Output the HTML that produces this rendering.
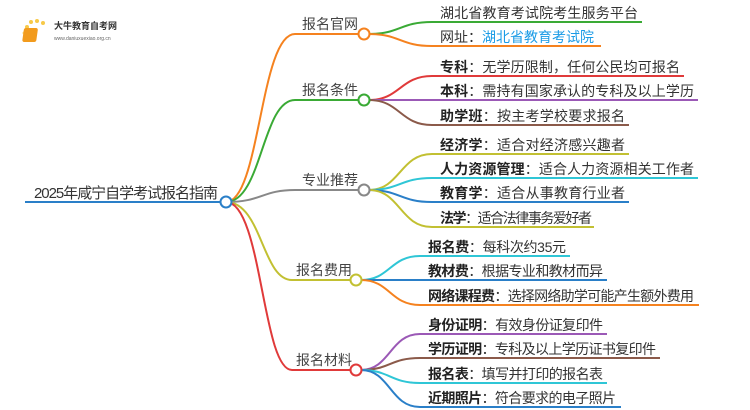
<!DOCTYPE html>
<html><head><meta charset="utf-8"><style>
body{margin:0;background:#fff;}
svg{display:block;}
text{font-family:"Liberation Sans","Noto Sans CJK SC",sans-serif;font-size:14px;fill:#333;}
.b{font-weight:bold;fill:#222;}
.br{font-size:14px;fill:#444;}
</style></head><body>
<svg width="750" height="410" viewBox="0 0 750 410" xmlns="http://www.w3.org/2000/svg">
<g fill="none" stroke-width="2">
<line x1="25" y1="202" x2="221" y2="202" stroke="#2a7fc8"/>
<path d="M226,202 C260,202 260,34 295,34 L359,34" stroke="#f5821f"/>
<path d="M226,202 C262,202 262,100 295,100 L359,100" stroke="#3aaa35"/>
<path d="M226,202 C262,202 262,190 295,190 L359,190" stroke="#888"/>
<path d="M226,202 C262,202 262,280 292,280 L351,280" stroke="#c2c032"/>
<path d="M226,202 C262,202 262,370 292,370 L351,370" stroke="#e03a3a"/>
<path d="M369,34 C400,34 400,22 432,22 L642,22" stroke="#3aaa35"/>
<path d="M369,34 C400,34 400,46 432,46 L601,46" stroke="#f5821f"/>
<path d="M369,100 C400,100 400,76 432,76 L684,76" stroke="#e03a3a"/>
<path d="M369,100 L698,100" stroke="#9b59b6"/>
<path d="M369,100 C400,100 400,125 432,125 L629,125" stroke="#8b5a4a"/>
<path d="M369,190 C400,190 400,154 432,154 L629,154" stroke="#c2c032"/>
<path d="M369,190 C400,190 400,178 432,178 L698,178" stroke="#2fc6d6"/>
<path d="M369,190 C400,190 400,202 432,202 L629,202" stroke="#2a7fc8"/>
<path d="M369,190 C400,190 400,227 432,227 L594,227" stroke="#c2c032"/>
<path d="M361,280 C390,280 390,256 420,256 L570,256" stroke="#2fc6d6"/>
<path d="M361,280 L607,280" stroke="#2a7fc8"/>
<path d="M361,280 C390,280 390,305 420,305 L699,305" stroke="#f5821f"/>
<path d="M361,370 C390,370 390,334 420,334 L607,334" stroke="#9b59b6"/>
<path d="M361,370 C390,370 390,358 420,358 L660,358" stroke="#8b5a4a"/>
<path d="M361,370 C390,370 390,383 420,383 L607,383" stroke="#2fc6d6"/>
<path d="M361,370 C390,370 390,407 420,407 L621,407" stroke="#2a7fc8"/>
</g>
<g fill="#fff" stroke-width="2">
<circle cx="226" cy="202" r="5.5" stroke="#2a7fc8"/>
<circle cx="364" cy="34" r="5.5" stroke="#f5821f"/>
<circle cx="364" cy="100" r="5.5" stroke="#3aaa35"/>
<circle cx="364" cy="190" r="5.5" stroke="#888"/>
<circle cx="356" cy="280" r="5.5" stroke="#c2c032"/>
<circle cx="356" cy="370" r="5.5" stroke="#e03a3a"/>
</g>
<g>
<circle cx="27" cy="27" r="2" fill="#f7c948"/><circle cx="31" cy="22" r="2" fill="#f7c948"/><circle cx="37" cy="21" r="2" fill="#f7c948"/><circle cx="43" cy="23" r="2" fill="#f7c948"/><circle cx="24" cy="33" r="1.5" fill="#f7d97a"/>
<rect x="28" y="28" width="14" height="14" rx="2" fill="#f29b1d" transform="skewX(-8)"/>
<text x="54" y="29" style="font-size:9px;fill:#333;font-weight:bold">大牛教育自考网</text>
<text x="54" y="40" style="font-size:5px;fill:#666">www.daniuxuexiao.org.cn</text>
</g>
<text x="34" y="198" textLength="184" style="font-size:15px;fill:#333">2025年咸宁自学考试报名指南</text>
<text class="br" x="302" y="29">报名官网</text>
<text class="br" x="302" y="95">报名条件</text>
<text class="br" x="302" y="185">专业推荐</text>
<text class="br" x="296" y="275">报名费用</text>
<text class="br" x="296" y="365">报名材料</text>

<text x="440" y="18" textLength="198">湖北省教育考试院考生服务平台</text>
<text x="440" y="42">网址：<tspan style="fill:#1a9be6">湖北省教育考试院</tspan></text>
<text x="440" y="72" textLength="240"><tspan class="b">专科</tspan>：无学历限制，任何公民均可报名</text>
<text x="440" y="96" textLength="254"><tspan class="b">本科</tspan>：需持有国家承认的专科及以上学历</text>
<text x="440" y="121" textLength="185"><tspan class="b">助学班</tspan>：按主考学校要求报名</text>
<text x="440" y="150" textLength="185"><tspan class="b">经济学</tspan>：适合对经济感兴趣者</text>
<text x="440" y="174" textLength="254"><tspan class="b">人力资源管理</tspan>：适合人力资源相关工作者</text>
<text x="440" y="198" textLength="185"><tspan class="b">教育学</tspan>：适合从事教育行业者</text>
<text x="440" y="223" textLength="152"><tspan class="b">法学</tspan>：适合法律事务爱好者</text>
<text x="428" y="252" textLength="138"><tspan class="b">报名费</tspan>：每科次约35元</text>
<text x="428" y="276" textLength="175"><tspan class="b">教材费</tspan>：根据专业和教材而异</text>
<text x="428" y="301" textLength="266"><tspan class="b">网络课程费</tspan>：选择网络助学可能产生额外费用</text>
<text x="428" y="330" textLength="175"><tspan class="b">身份证明</tspan>：有效身份证复印件</text>
<text x="428" y="354" textLength="228"><tspan class="b">学历证明</tspan>：专科及以上学历证书复印件</text>
<text x="428" y="379" textLength="175"><tspan class="b">报名表</tspan>：填写并打印的报名表</text>
<text x="428" y="403" textLength="188"><tspan class="b">近期照片</tspan>：符合要求的电子照片</text>
</svg>
</body></html>
